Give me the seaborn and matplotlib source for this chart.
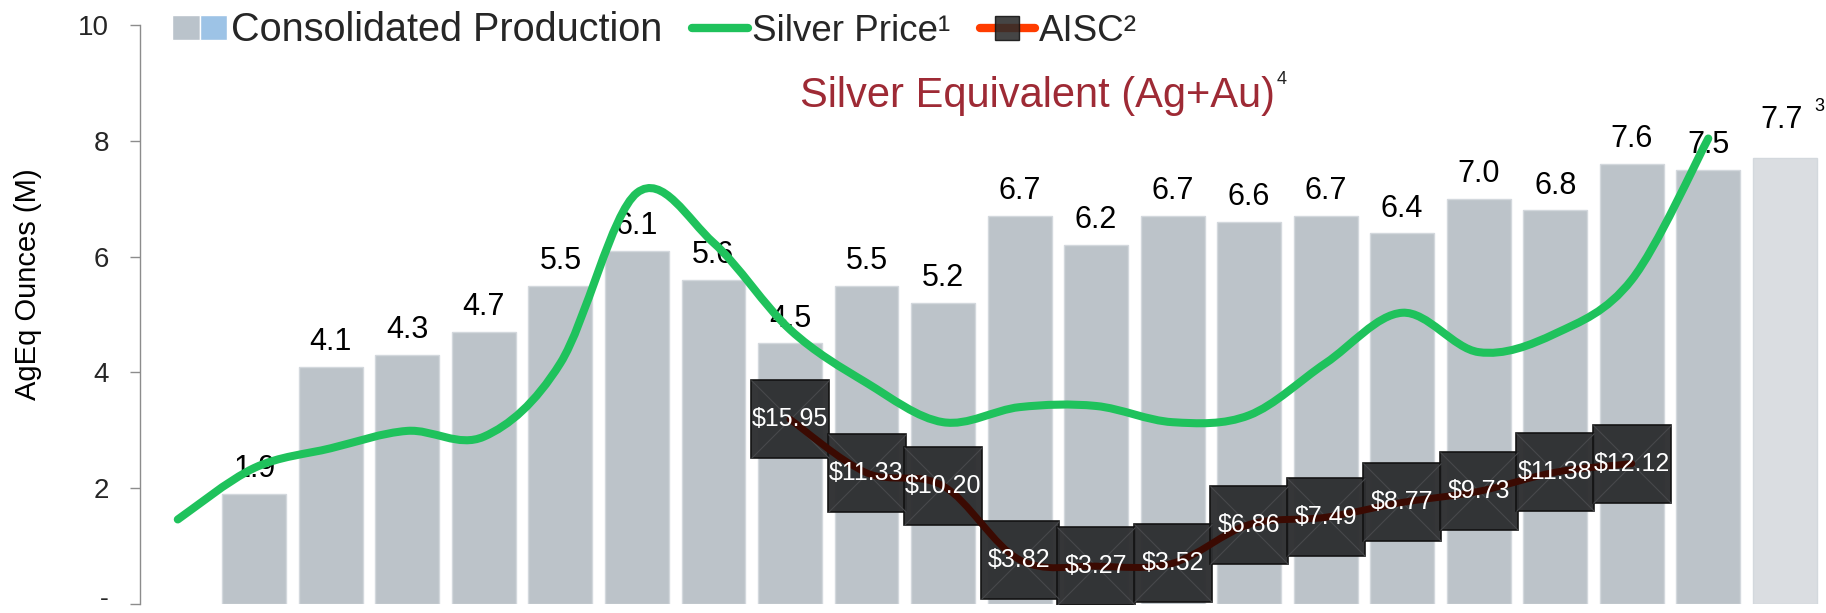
import numpy as np
import pandas as pd
import matplotlib
matplotlib.use("Agg")
import matplotlib.pyplot as plt
import matplotlib.transforms as mtransforms
import seaborn as sns
from matplotlib.path import Path
from matplotlib.patches import PathPatch, Patch
from matplotlib.lines import Line2D
from matplotlib.legend_handler import HandlerTuple

# chart data
periods = ["2005", "2006", "2007", "2008", "2009", "2010", "2011", "2012",
           "2013", "2014", "2015", "2016", "2017", "2018", "2019", "2020",
           "2021", "2022", "2023", "2024", "2025", "2026"]
production = [np.nan, 1.9, 4.1, 4.3, 4.7, 5.5, 6.1, 5.6, 4.5, 5.5, 5.2, 6.7,
              6.2, 6.7, 6.6, 6.7, 6.4, 7.0, 6.8, 7.6, 7.5, 7.7]
status = ["actual"] * 21 + ["guidance"]
silver_periods = periods[:21]
silver_price = [7.3, 11.75, 13.45, 14.95, 14.45, 20.8, 35.5, 31.2, 23.7, 19.1,
                15.7, 17.0, 17.1, 15.7, 16.3, 20.8, 25.15, 21.75, 23.35, 28.0, 40.2]
aisc_periods = periods[8:20]
aisc = [15.95, 11.33, 10.20, 3.82, 3.27, 3.52, 6.86, 7.49, 8.77, 9.73, 11.38, 12.12]

bar_color = "#bac3cb"
guide_color = "#d9dde2"
green = "#1fc25c"
maroon = "#3b0a02"
box_color = "#2e2f31"
title_color = "#9e2a35"

sns.set_theme(style="white")
plt.rcParams["font.family"] = ["Liberation Sans", "DejaVu Sans"]


def smooth_path(xs, ys):
    # smoothed line through the points (Catmull-Rom as cubic Bezier segments)
    pts = np.column_stack([xs, ys]).astype(float)
    verts = [pts[0]]
    codes = [Path.MOVETO]
    n = len(pts)
    for i in range(n - 1):
        p0 = pts[i - 1] if i > 0 else pts[i]
        p1, p2 = pts[i], pts[i + 1]
        p3 = pts[i + 2] if i + 2 < n else pts[i + 1]
        verts += [p1 + (p2 - p0) / 6, p2 - (p3 - p1) / 6, p2]
        codes += [Path.CURVE4] * 3
    return Path(verts, codes)


df = pd.DataFrame({"period": periods, "production": production, "status": status})

fig = plt.figure(figsize=(18.26, 6.13), dpi=100)
ax = fig.add_axes([0.0764, 0.0147, 0.922, 0.9445])

sns.barplot(data=df, x="period", y="production", hue="status", order=periods,
            palette={"actual": bar_color, "guidance": guide_color},
            dodge=False, width=0.835, errorbar=None, legend=False,
            edgecolor="#d3d8dd", linewidth=1, ax=ax, zorder=1)

ax.set_xlim(-0.5, len(periods) - 0.5)
ax.set_ylim(0, 10)
ax.set_yticks([0, 2, 4, 6, 8, 10])
ax.set_yticklabels(["-", "2", "4", "6", "8", "10"], fontsize=20)
ax.tick_params(axis="y", left=True, length=7, width=1, color="#8c8c8c", pad=15)
ax.tick_params(axis="x", bottom=False, labelbottom=False)
# keep the zero dash inside the canvas
zero_lbl = ax.get_yticklabels()[0]
zero_lbl.set_fontsize(19)
zero_lbl.set_transform(zero_lbl.get_transform() +
                       mtransforms.ScaledTranslation(0, 7 / 100, fig.dpi_scale_trans))
ax.set_xlabel("")
ax.set_ylabel("")
for s in ["top", "right", "bottom"]:
    ax.spines[s].set_visible(False)
ax.spines["left"].set_color("#8c8c8c")
ax.spines["left"].set_linewidth(1)

# bar value labels
pos = {p: i for i, p in enumerate(periods)}
for p, v in zip(periods, production):
    if np.isnan(v):
        continue
    if p == periods[-1]:
        ax.annotate(f"{v:.1f}", (pos[p], v), xytext=(-2, 22), textcoords="offset points",
                    ha="center", va="baseline", fontsize=22, color="black", zorder=7)
        ax.annotate("3", (pos[p], v), xytext=(21, 34), textcoords="offset points",
                    ha="left", va="baseline", fontsize=13, color="black", zorder=7)
    else:
        ax.annotate(f"{v:.1f}", (pos[p], v), xytext=(0, 12), textcoords="offset points",
                    ha="center", va="baseline", fontsize=22, color="black", zorder=7)

# price / cost lines on a hidden secondary scale
ax2 = ax.twinx()
ax2.set_ylim(0, 50)
ax2.axis("off")

sx = [pos[p] for p in silver_periods]
ax2.add_patch(PathPatch(smooth_path(sx, silver_price), fill=False, edgecolor=green,
                        lw=5.8, capstyle="round", joinstyle="round", zorder=3))

axx = [pos[p] for p in aisc_periods]
ax2.plot(axx, aisc, ls="none", marker="s", ms=56, mfc=box_color, mec="#111111",
         mew=1.2, alpha=0.97, zorder=4)
ax2.plot(axx, aisc, ls="none", marker="x", ms=56, mec="#47484b", mew=0.8, zorder=4)
ax2.add_patch(PathPatch(smooth_path(axx, aisc), fill=False, edgecolor=maroon,
                        lw=5, capstyle="round", joinstyle="round", zorder=5))
for x, v in zip(axx, aisc):
    ax2.text(x, v, f"${v:.2f}", ha="center", va="center", fontsize=18,
             color="white", zorder=6)

# title and y label
title = fig.text(800 / 1826, 1 - 107 / 613, "Silver Equivalent (Ag+Au)", ha="left",
                 va="baseline", fontsize=30, color=title_color)
fig.canvas.draw()
tb = title.get_window_extent()
fig.text((tb.x1 + 2) / fig.bbox.width, 1 - 84 / 613, "4", ha="left", va="baseline",
         fontsize=13, color="#222222")
fig.text(28 / 1826, 1 - 284 / 613, "AgEq Ounces (M)", rotation=90, ha="center",
         va="center", fontsize=21, color="black")

# legend
prod_handle = (Patch(facecolor=bar_color), Patch(facecolor="#9dc3e6"))
silver_handle = Line2D([], [], color=green, lw=6, solid_capstyle="round")
aisc_handle = (Line2D([], [], color="#ff3c00", lw=6, solid_capstyle="round"),
               Line2D([], [], ls="none", marker="s", ms=17, mfc="#2b2b2b",
                      mec="#111111", alpha=0.88))
leg = fig.legend([prod_handle, silver_handle, aisc_handle],
                 ["Consolidated Production", "Silver Price¹", "AISC²"],
                 handler_map={prod_handle: HandlerTuple(ndivide=None, pad=0),
                              aisc_handle: HandlerTuple(ndivide=1)},
                 loc="upper left", bbox_to_anchor=(172 / 1826, 0.982), ncol=3,
                 frameon=False, fontsize=28.5, handlelength=1.4, handleheight=0.6,
                 handletextpad=0.1, columnspacing=0.75, borderpad=0, borderaxespad=0)
for t in leg.get_texts()[1:]:
    t.set_fontsize(26.5)

fig.savefig("out.png", dpi=100)
